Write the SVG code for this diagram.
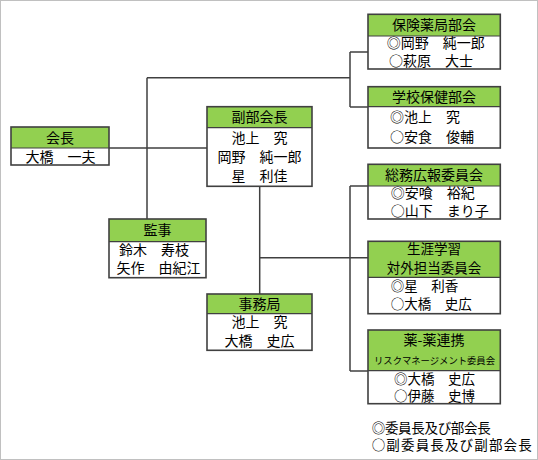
<svg xmlns="http://www.w3.org/2000/svg" width="538" height="460" viewBox="0 0 538 460">
<style>
text{font-family:"Noto Sans CJK JP","Noto Sans",sans-serif;font-size:14px;fill:#000}
.m{text-anchor:middle}
.t{font-size:13.5px}
.hd{fill:#92D050;stroke:none}
.bd{fill:#fff;stroke:none}
.ol{fill:none;stroke:#404040;stroke-width:1.6}
.sep{stroke:#404040;stroke-width:1.2}
.c{fill:none;stroke:#404040;stroke-width:1.5}
.sm{font-size:9.5px}
</style>
<rect x="0.5" y="0.5" width="537" height="459" fill="#fff" stroke="#c0c0c0"/>
<g id="connectors">
<path class="c" d="M109 148H207M147 77.7V219M147 77.7H350M350 52V107M350 52H368M350 107H368"/>
<path class="c" d="M259.7 186V294M259.7 257.7H368M350 186V371M350 186H368M350 371H368"/>
</g>
<g id="kaicho">
<rect class="hd" x="11" y="127" width="98" height="21"/><rect class="bd" x="11" y="148" width="98" height="17"/>
<line class="sep" x1="11" y1="148" x2="109" y2="148"/><rect class="ol" x="11" y="127" width="98" height="38"/>
<text class="m" x="60" y="143">会長</text><text class="m" x="60.5" y="161.7">大橋　一夫</text>
</g>
<g id="kanji">
<rect class="hd" x="109" y="219" width="97" height="22.7"/><rect class="bd" x="109" y="241.7" width="97" height="36"/>
<line class="sep" x1="109" y1="241.7" x2="206" y2="241.7"/><rect class="ol" x="109" y="219" width="97" height="58.7"/>
<text class="m" x="157.5" y="235">監事</text><text x="119" y="255">鈴木　寿枝</text><text x="116.5" y="272.7">矢作　由紀江</text>
</g>
<g id="fukubukaicho">
<rect class="hd" x="207" y="106.7" width="105" height="21"/><rect class="bd" x="207" y="127.7" width="105" height="58.6"/>
<line class="sep" x1="207" y1="127.7" x2="312" y2="127.7"/><rect class="ol" x="207" y="106.7" width="105" height="79.6"/>
<text class="m" x="259.5" y="121.7">副部会長</text><text class="m" x="259.5" y="143">池上　究</text><text class="m" x="259.5" y="162">岡野　純一郎</text><text class="m" x="259.5" y="181">星　利佳</text>
</g>
<g id="jimukyoku">
<rect class="hd" x="207" y="294" width="105" height="19.7"/><rect class="bd" x="207" y="313.7" width="105" height="36.6"/>
<line class="sep" x1="207" y1="313.7" x2="312" y2="313.7"/><rect class="ol" x="207" y="294" width="105" height="56.3"/>
<text class="m" x="259.5" y="309">事務局</text><text class="m" x="259.5" y="327.3">池上　究</text><text class="m" x="259.5" y="345.7">大橋　史広</text>
</g>
<g id="hoken">
<rect class="hd" x="368" y="14.3" width="132.3" height="21.7"/><rect class="bd" x="368" y="36" width="132.3" height="33"/>
<line class="sep" x1="368" y1="36" x2="500.3" y2="36"/><rect class="ol" x="368" y="14.3" width="132.3" height="54.7"/>
<text class="m" x="434" y="30">保険薬局部会</text><text x="386.7" y="48.3">◎岡野　純一郎</text><text x="389" y="66">○萩原　大士</text>
</g>
<g id="gakko">
<rect class="hd" x="368" y="86.7" width="132.3" height="20"/><rect class="bd" x="368" y="106.7" width="132.3" height="41.3"/>
<line class="sep" x1="368" y1="106.7" x2="500.3" y2="106.7"/><rect class="ol" x="368" y="86.7" width="132.3" height="61.3"/>
<text class="m" x="434" y="101.7">学校保健部会</text><text x="390" y="122.3">◎池上　究</text><text x="390" y="141.7">○安食　俊輔</text>
</g>
<g id="somu">
<rect class="hd" x="368" y="164.3" width="132.3" height="21.7"/><rect class="bd" x="368" y="186" width="132.3" height="33"/>
<line class="sep" x1="368" y1="186" x2="500.3" y2="186"/><rect class="ol" x="368" y="164.3" width="132.3" height="54.7"/>
<text class="m" x="434" y="180">総務広報委員会</text><text x="390.7" y="198.3">◎安喰　裕紀</text><text x="390.7" y="216">○山下　まり子</text>
</g>
<g id="shogai">
<rect class="hd" x="368" y="241.3" width="132.3" height="36"/><rect class="bd" x="368" y="277.3" width="132.3" height="36.4"/>
<line class="sep" x1="368" y1="277.3" x2="500.3" y2="277.3"/><rect class="ol" x="368" y="241.3" width="132.3" height="72.4"/>
<text class="m t" x="434" y="254">生涯学習</text><text class="m t" x="434" y="272.5">対外担当委員会</text><text class="t" x="390.7" y="290.5">◎星　利香</text><text class="t" x="390.7" y="308.7">○大橋　史広</text>
</g>
<g id="yakuyaku">
<rect class="hd" x="368" y="330" width="132.3" height="40.7"/><rect class="bd" x="368" y="370.7" width="132.3" height="33"/>
<line class="sep" x1="368" y1="370.7" x2="500.3" y2="370.7"/><rect class="ol" x="368" y="330" width="132.3" height="73.7"/>
<text class="m" x="434" y="345">薬-薬連携</text><text class="sm" x="374" y="363.5" textLength="121" lengthAdjust="spacingAndGlyphs">リスクマネージメント委員会</text>
<text class="t" x="394" y="383.5">◎大橋　史広</text><text class="t" x="394" y="401">○伊藤　史博</text>
</g>
<g id="legend">
<text class="t" x="371.7" y="432.5" textLength="119">◎委員長及び部会長</text><text class="t" x="371.7" y="450" textLength="160">○副委員長及び副部会長</text>
</g>
</svg>
